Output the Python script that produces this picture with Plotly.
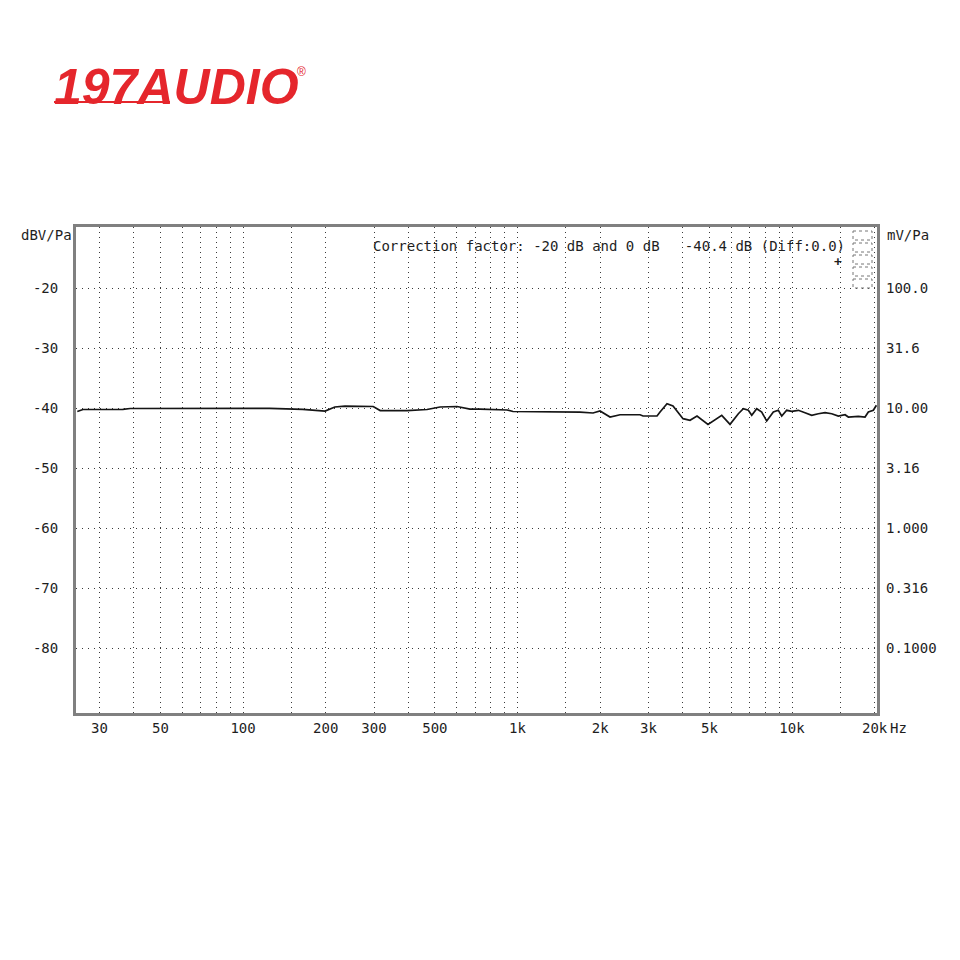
import plotly.graph_objects as go
import math

# ---- data ----
freq_hz = [24.9, 26.1, 36.5, 38.8, 125, 165, 199, 216, 235, 298, 316, 396, 468, 522, 602,
           671, 730, 916, 963, 1347, 1689, 1884, 1998, 2173, 2363, 2505, 2795, 2866, 3223,
           3305, 3504, 3685, 4008, 4250, 4507, 4943, 5332, 5546, 5945, 6375, 6648, 6932,
           7133, 7438, 7756, 8088, 8550, 8915, 9173, 9565, 9975, 10545, 11153, 11798, 12468,
           13190, 13953, 14750, 15605, 16040, 17440, 18450, 18970, 19780, 20300]
level_dbv = [-40.58, -40.25, -40.22, -40.08, -40.05, -40.22, -40.50, -39.83, -39.67, -39.75,
             -40.42, -40.42, -40.25, -39.83, -39.75, -40.17, -40.17, -40.33, -40.58, -40.67,
             -40.67, -40.83, -40.50, -41.50, -41.12, -41.12, -41.12, -41.33, -41.33, -40.67,
             -39.28, -39.67, -41.78, -42.05, -41.33, -42.72, -41.78, -41.22, -42.72, -40.95,
             -40.12, -40.38, -41.22, -40.12, -40.67, -42.17, -40.67, -40.38, -41.33, -40.38,
             -40.55, -40.38, -40.78, -41.22, -40.95, -40.78, -40.95, -41.33, -41.12, -41.50,
             -41.38, -41.50, -40.67, -40.38, -39.55]

x_tick_vals = [30, 50, 100, 200, 300, 500, 1000, 2000, 3000, 5000, 10000, 20000]
x_tick_text = ["30", "50", "100", "200", "300", "500", "1k", "2k", "3k", "5k", "10k", "20k"]
x_minor_grid = [40, 60, 70, 80, 90, 150, 400, 600, 700, 800, 900, 1500,
                4000, 6000, 7000, 8000, 9000, 15000]
y_tick_vals = [-20, -30, -40, -50, -60, -70, -80]
y_tick_text = ["-20", "-30", "-40", "-50", "-60", "-70", "-80"]
y2_tick_text = ["100.0", "31.6", "10.00", "3.16", "1.000", "0.316", "0.1000"]

x_range_hz = [24.63, 20400]
y_range_db = [-90.83, -9.83]

FONT = "DejaVu Sans Mono"
TXT = "#1e1e1e"
GRID = "#3a3a3a"
BORDER = "#808080"

fig = go.Figure()
fig.add_trace(go.Scatter(x=freq_hz, y=level_dbv, mode="lines",
                         line=dict(color="#151515", width=1.7),
                         showlegend=False, hoverinfo="skip"))
fig.add_trace(go.Scatter(x=freq_hz, y=level_dbv, mode="lines", yaxis="y2",
                         line=dict(color="rgba(0,0,0,0)", width=0),
                         showlegend=False, hoverinfo="skip"))

# page body has an 8px margin, so shift the plot area up/left by 8px
fig.update_layout(
    width=960, height=960,
    margin=dict(l=68, r=91, t=219, b=255),
    paper_bgcolor="white", plot_bgcolor="white",
    font=dict(family=FONT, size=14, color=TXT),
    xaxis=dict(type="log", range=[math.log10(x_range_hz[0]), math.log10(x_range_hz[1])],
               tickmode="array", tickvals=x_tick_vals, ticktext=x_tick_text,
               showgrid=True, gridcolor=GRID, griddash="1px,4px", gridwidth=1,
               minor=dict(tickmode="array", tickvals=x_minor_grid, showgrid=True,
                          gridcolor=GRID, griddash="1px,4px", gridwidth=1, ticks=""),
               ticks="", ticklen=0, showline=True, mirror=True, linecolor=BORDER, linewidth=3,
               zeroline=False, ticklabelstandoff=0,
               tickfont=dict(family=FONT, size=14, color=TXT)),
    yaxis=dict(range=y_range_db, tickmode="array", tickvals=y_tick_vals, ticktext=y_tick_text,
               showgrid=True, gridcolor=GRID, griddash="1px,5px", gridwidth=1,
               ticks="", ticklen=0, showline=True, mirror=True, linecolor=BORDER, linewidth=3,
               zeroline=False, ticklabelstandoff=12,
               tickfont=dict(family=FONT, size=14, color=TXT)),
    yaxis2=dict(range=y_range_db, overlaying="y", side="right", anchor="x",
                tickmode="array", tickvals=y_tick_vals, ticktext=y2_tick_text,
                showgrid=False, ticks="", ticklen=0, zeroline=False, ticklabelstandoff=8,
                tickfont=dict(family=FONT, size=14, color=TXT)),
)

def px_x(px):
    return (px - 76) / 801.0

def px_y(py):
    return (713 - py) / 486.0

ann = []
ann.append(dict(text="dBV/Pa", x=px_x(74), y=px_y(235), xref="paper", yref="paper",
                xanchor="right", yanchor="middle", showarrow=False,
                font=dict(family=FONT, size=14, color=TXT)))
ann.append(dict(text="mV/Pa", x=px_x(885), y=px_y(235), xref="paper", yref="paper",
                xanchor="left", yanchor="middle", showarrow=False,
                font=dict(family=FONT, size=14, color=TXT)))
ann.append(dict(text="Hz", x=px_x(888), y=px_y(728), xref="paper", yref="paper",
                xanchor="left", yanchor="middle", showarrow=False,
                font=dict(family=FONT, size=14, color=TXT)))
ann.append(dict(text="Correction factor: -20 dB and 0 dB   -40.4 dB (Diff:0.0)",
                x=px_x(371), y=px_y(246), xref="paper", yref="paper",
                xanchor="left", yanchor="middle", showarrow=False,
                font=dict(family=FONT, size=14, color=TXT)))
ann.append(dict(text="<b>+</b>", x=px_x(838), y=px_y(262), xref="paper", yref="paper",
                xanchor="center", yanchor="middle", showarrow=False,
                font=dict(family=FONT, size=13, color=TXT)))
# logo
ann.append(dict(text="<b><i>197AUDIO</i></b>", x=px_x(52), y=px_y(87), xref="paper", yref="paper",
                xanchor="left", yanchor="middle", showarrow=False,
                font=dict(family="Liberation Sans", size=50, color="#e5262c")))
ann.append(dict(text="®", x=px_x(301), y=px_y(72), xref="paper", yref="paper",
                xanchor="center", yanchor="middle", showarrow=False,
                font=dict(family="Liberation Sans", size=12, color="#e5262c")))
fig.update_layout(annotations=ann)

shapes = []
shapes.append(dict(type="line", xref="paper", yref="paper",
                   x0=px_x(54), x1=px_x(170), y0=px_y(102), y1=px_y(102),
                   line=dict(color="#e5262c", width=2)))
# small dotted legend boxes at top right
for i in range(5):
    top = 231 + i * 12
    shapes.append(dict(type="rect", xref="paper", yref="paper",
                       x0=px_x(853), x1=px_x(872), y0=px_y(top), y1=px_y(top + 9),
                       line=dict(color="#777", width=1, dash="dot")))
fig.update_layout(shapes=shapes)

fig.write_html("out.html")
